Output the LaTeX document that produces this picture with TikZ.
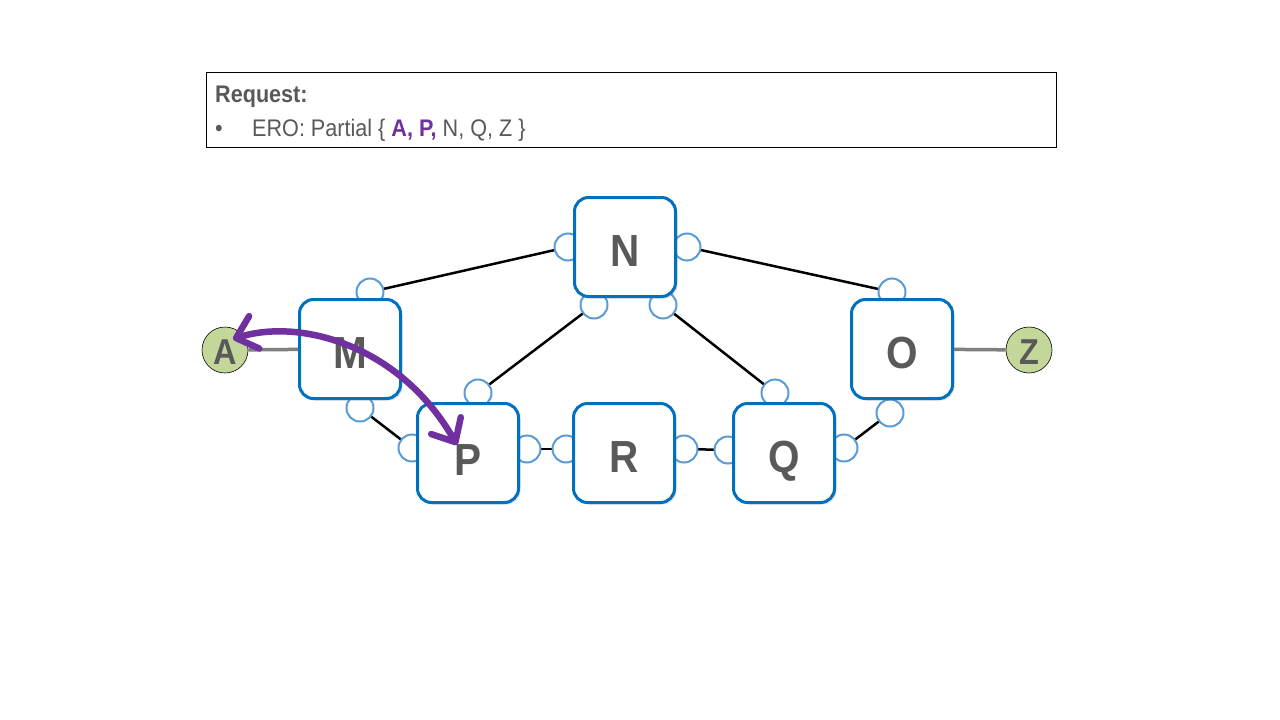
\documentclass[tikz,border=0pt]{standalone}
\usepackage{fontspec}
\setmainfont{Liberation Sans}
\newfontfamily\nf[FakeStretch=0.9]{Liberation Sans}
\usetikzlibrary{arrows.meta,shadows,calc}
\definecolor{boxblue}{HTML}{0070C0}
\definecolor{portblue}{HTML}{5B9BD5}
\definecolor{txtgrey}{HTML}{595959}
\definecolor{ero}{HTML}{7030A0}
\definecolor{endgreen}{HTML}{C4D79B}
\definecolor{linkgrey}{HTML}{7F7F7F}
\tikzset{
  router/.style={rectangle, rounded corners=14pt, minimum width=101pt, minimum height=99pt,
    line width=3pt, draw=boxblue, fill=white, text=txtgrey, inner sep=0pt,
    text height=38pt, text depth=0pt,
    font=\nf\bfseries\fontsize{45}{45}\selectfont,
    drop shadow={opacity=0.25, shadow xshift=2pt, shadow yshift=-2pt}},
  port/.style={circle, minimum size=27pt, inner sep=0pt, line width=2pt, draw=portblue, fill=white},
  endpt/.style={circle, minimum size=46pt, inner sep=0pt, line width=0.6pt, draw=black, fill=endgreen,
    text=txtgrey, text height=28pt, text depth=0pt, font=\nf\bfseries\fontsize{36}{36}\selectfont},
  link/.style={line width=2.5pt, black},
  glink/.style={line width=3.5pt, linkgrey},
  eroarrow/.style={line width=6.5pt, ero, line cap=round,
    {Straight Barb[length=19pt,width=34pt,round]}-{Straight Barb[length=19pt,width=34pt,round]}},
  hdr/.style={anchor=base west, inner sep=0pt, text=txtgrey, font=\nf\fontsize{24}{24}\selectfont}
}
\begin{document}
\begin{tikzpicture}[x=1pt,y=-1pt]
\fill[white] (0,0) rectangle (1280,720);
\useasboundingbox (0,0) rectangle (1280,720);

% header
\node[draw=black, line width=0.8pt, minimum width=850pt, minimum height=75pt, anchor=north west, inner sep=0pt] (req) at (206,72) {};
\node[hdr, font=\nf\bfseries\fontsize{24}{24}\selectfont] (reqt) at (215,102) {Request:};
\node[hdr] (bul) at (215,136) {\textbullet};
\node[hdr] (erot) at (252,136) {ERO: Partial \{ \textcolor{ero}{\bfseries A, P,} N, Q, Z \}};

% port coordinates
\coordinate (cNl) at (568,247);
\coordinate (cNr) at (687,247);
\coordinate (cNbl) at (594,305);
\coordinate (cNbr) at (663,305);
\coordinate (cMt) at (370,292);
\coordinate (cMb) at (360,408);
\coordinate (cPl) at (412,448);
\coordinate (cPt) at (478,393);
\coordinate (cPr) at (527,449);
\coordinate (cRl) at (566,449);
\coordinate (cRr) at (684,449);
\coordinate (cQl) at (728,450);
\coordinate (cQt) at (775,393);
\coordinate (cQr) at (844,448);
\coordinate (cOt) at (892,292);
\coordinate (cOb) at (890,413);

% links
\draw[link] (cMt) -- (cNl);
\draw[link] (cNr) -- (cOt);
\draw[link] (cNbl) -- (cPt);
\draw[link] (cNbr) -- (cQt);
\draw[link] (cMb) -- (cPl);
\draw[link] (cPr) -- (cRl);
\draw[link] (cRr) -- (cQl);
\draw[link] (cQr) -- (cOb);

% ports
\foreach \p in {Nl,Nr,Nbl,Nbr,Mt,Mb,Pl,Pt,Pr,Rl,Rr,Ql,Qt,Qr,Ot,Ob}
  \node[port] (p\p) at (c\p) {};

% routers
\node[router] (N) at (625,247) {N};
\node[router] (M) at (350,349) {M};
\node[router] (P) at (468,453) {\raisebox{-3pt}{P}};
\node[router] (R) at (624,453) {R};
\node[router] (Q) at (784,453) {Q};
\node[router] (O) at (902,349) {O};

% endpoints
\node[endpt] (A) at (225,350) {A};
\node[endpt] (Z) at (1029,350) {Z};
\draw[glink] (A) -- (M);
\draw[glink] (O) -- (Z);

% ERO arrow
\draw[eroarrow] ($(A.center)+(8,-11)$) .. controls (300,318) and (400,345) .. ($(P.center)+(-11,-8)$);
\end{tikzpicture}
\end{document}
